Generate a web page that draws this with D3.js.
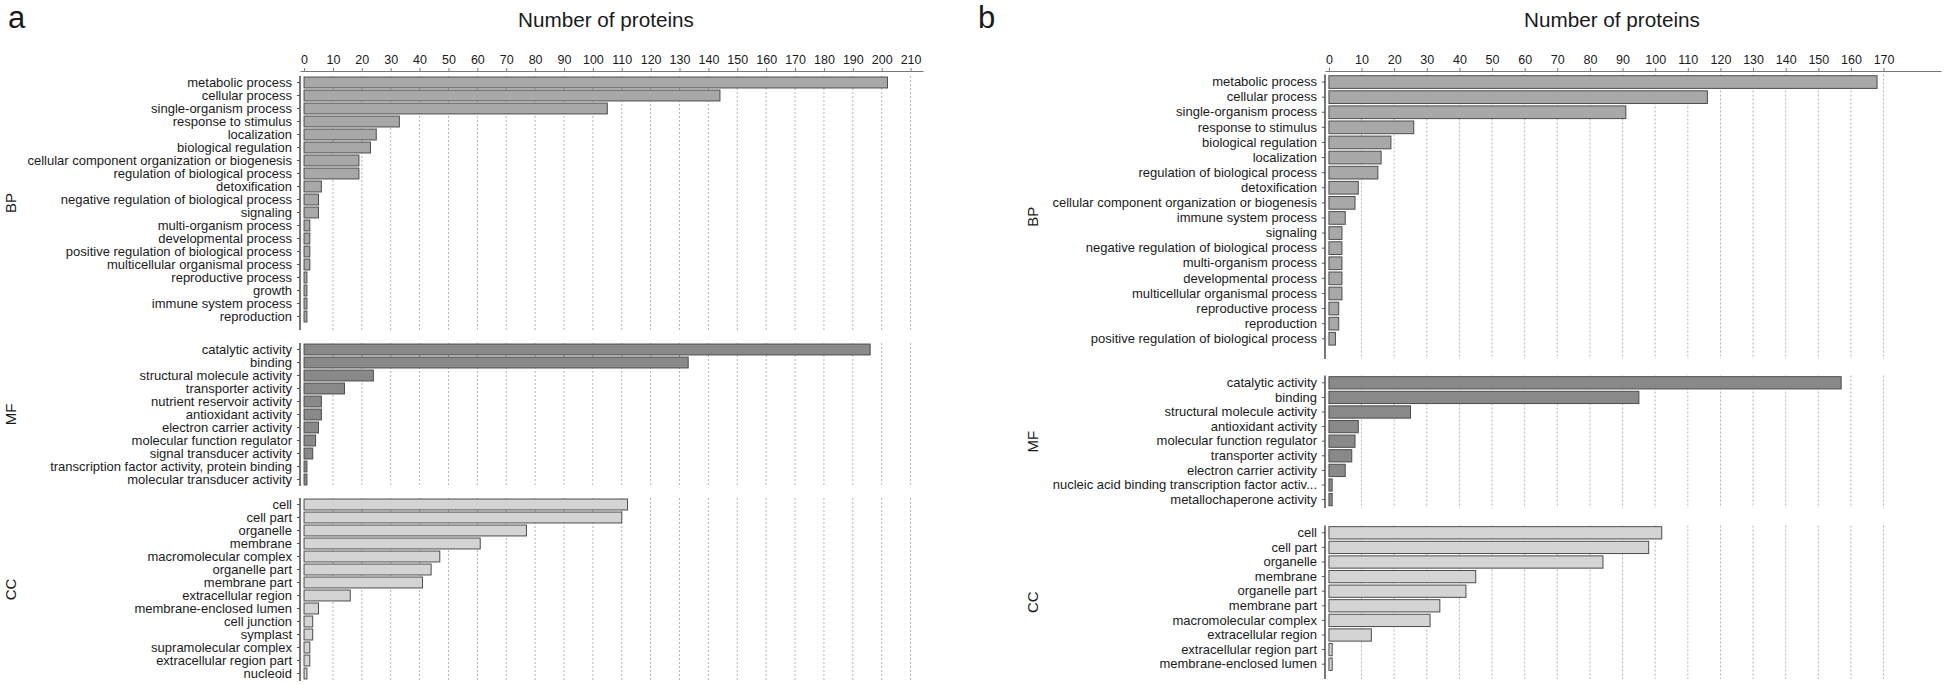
<!DOCTYPE html>
<html>
<head>
<meta charset="utf-8">
<script src="https://cdnjs.cloudflare.com/ajax/libs/d3/7.8.5/d3.min.js"></script>
<style>
body { margin: 0; background: #fff; }
text { font-family: "Liberation Sans", Arial, sans-serif; fill: #1a1a1a; }
.x-axis text { font-family: "Liberation Sans Narrow", "Arial Narrow", "Liberation Sans", sans-serif; }
</style>
</head>
<body>
<div class="chart"></div>
<script>
// ---- panel a ----
var bpTermsA = ["metabolic process", "cellular process", "single-organism process", "response to stimulus",
    "localization", "biological regulation", "cellular component organization or biogenesis",
    "regulation of biological process", "detoxification", "negative regulation of biological process",
    "signaling", "multi-organism process", "developmental process", "positive regulation of biological process",
    "multicellular organismal process", "reproductive process", "growth", "immune system process", "reproduction"];
var bpCountsA = [202, 144, 105, 33, 25, 23, 19, 19, 6, 5, 5, 2, 2, 2, 2, 1, 1, 1, 1];

var mfTermsA = ["catalytic activity", "binding", "structural molecule activity", "transporter activity",
    "nutrient reservoir activity", "antioxidant activity", "electron carrier activity",
    "molecular function regulator", "signal transducer activity",
    "transcription factor activity, protein binding", "molecular transducer activity"];
var mfCountsA = [196, 133, 24, 14, 6, 6, 5, 4, 3, 1, 1];

var ccTermsA = ["cell", "cell part", "organelle", "membrane", "macromolecular complex", "organelle part",
    "membrane part", "extracellular region", "membrane-enclosed lumen", "cell junction", "symplast",
    "supramolecular complex", "extracellular region part", "nucleoid"];
var ccCountsA = [112, 110, 77, 61, 47, 44, 41, 16, 5, 3, 3, 2, 2, 1];

var ticksA = [0, 10, 20, 30, 40, 50, 60, 70, 80, 90, 100, 110, 120, 130, 140, 150, 160, 170, 180, 190, 200, 210];

// ---- panel b ----
var bpTermsB = ["metabolic process", "cellular process", "single-organism process", "response to stimulus",
    "biological regulation", "localization", "regulation of biological process", "detoxification",
    "cellular component organization or biogenesis", "immune system process", "signaling",
    "negative regulation of biological process", "multi-organism process", "developmental process",
    "multicellular organismal process", "reproductive process", "reproduction",
    "positive regulation of biological process"];
var bpCountsB = [168, 116, 91, 26, 19, 16, 15, 9, 8, 5, 4, 4, 4, 4, 4, 3, 3, 2];

var mfTermsB = ["catalytic activity", "binding", "structural molecule activity", "antioxidant activity",
    "molecular function regulator", "transporter activity", "electron carrier activity",
    "nucleic acid binding transcription factor activ...", "metallochaperone activity"];
var mfCountsB = [157, 95, 25, 9, 8, 7, 5, 1, 1];

var ccTermsB = ["cell", "cell part", "organelle", "membrane", "organelle part", "membrane part",
    "macromolecular complex", "extracellular region", "extracellular region part", "membrane-enclosed lumen"];
var ccCountsB = [102, 98, 84, 45, 42, 34, 31, 13, 1, 1];

var ticksB = [0, 10, 20, 30, 40, 50, 60, 70, 80, 90, 100, 110, 120, 130, 140, 150, 160, 170];

var svgWidth = 1946;
var svgHeight = 685;

var fills = { BP: "#a8a8a8", MF: "#898989", CC: "#d4d4d4" };

var svg = d3.select(".chart")
    .append("svg")
    .attr("width", svgWidth)
    .attr("height", svgHeight);

function drawPanel(p) {
    var g = svg.append("g");

    var x = d3.scaleLinear()
        .domain(p.domain)
        .range([p.left, p.right]);

    // panel letter + title
    g.append("text")
        .attr("x", p.letterX)
        .attr("y", 28)
        .style("font-size", "31px")
        .text(p.letter);

    g.append("text")
        .attr("x", p.titleX)
        .attr("y", 27)
        .attr("text-anchor", "middle")
        .style("font-size", "20.7px")
        .text("Number of proteins");

    // top axis
    var topAxis = d3.axisTop(x)
        .tickValues(p.ticks)
        .tickSize(3)
        .tickSizeOuter(0)
        .tickPadding(4);

    var ax = g.append("g")
        .attr("class", "x-axis")
        .attr("transform", "translate(0," + p.axisY + ")")
        .call(topAxis);
    ax.selectAll("text").style("font-size", "12.5px").attr("fill", "#1a1a1a");
    ax.selectAll("line").attr("stroke", "#777");
    ax.select(".domain").attr("stroke", "#777");

    p.facets.forEach(function(f) {
        var n = f.terms.length;
        var y = d3.scaleBand()
            .domain(f.terms)
            .range([f.top, f.top + n * f.step])
            .paddingInner(0.16)
            .paddingOuter(0.08);

        var rows = f.terms.map((t, i) => ({ term: t, value: f.counts[i] }));

        // dashed grid
        g.append("g")
            .selectAll("line")
            .data(p.ticks.filter(t => t > 0))
            .enter()
            .append("line")
            .attr("x1", d => x(d))
            .attr("x2", d => x(d))
            .attr("y1", f.top)
            .attr("y2", f.bottom)
            .attr("stroke", "#b3b3b3")
            .attr("stroke-width", 1)
            .attr("stroke-dasharray", "2,2");

        // bars
        g.append("g")
            .selectAll("rect")
            .data(rows)
            .enter()
            .append("rect")
            .attr("x", x(0))
            .attr("y", d => y(d.term))
            .attr("width", d => x(d.value) - x(0))
            .attr("height", y.bandwidth())
            .attr("fill", fills[f.name])
            .attr("stroke", "#4d4d4d")
            .attr("stroke-width", 1);

        // left axis with term labels
        var leftAxis = d3.axisLeft(y)
            .tickSize(3)
            .tickSizeOuter(0)
            .tickPadding(5);

        var ay = g.append("g")
            .attr("transform", "translate(" + p.left + ",0)")
            .call(leftAxis);
        ay.selectAll("text").style("font-size", "13px").attr("fill", "#1a1a1a");
        ay.selectAll("line").attr("stroke", "#555");
        ay.select(".domain")
            .attr("stroke", "#555")
            .attr("stroke-width", 1.6)
            .attr("d", "M0," + f.top + "V" + f.bottom);

        // facet strip label
        g.append("text")
            .attr("transform", "translate(" + p.stripX + "," + ((f.top + f.bottom) / 2) + ") rotate(-90)")
            .attr("text-anchor", "middle")
            .attr("dy", "0.35em")
            .style("font-size", "15px")
            .text(f.name);
    });
}

drawPanel({
    letter: "a", letterX: 8, titleX: 606,
    left: 300, right: 923, domain: [-1.4, 214.3],
    ticks: ticksA, axisY: 71, stripX: 11,
    facets: [
        { name: "BP", terms: bpTermsA, counts: bpCountsA, top: 76, step: 13.0, bottom: 330 },
        { name: "MF", terms: mfTermsA, counts: mfCountsA, top: 343, step: 13.0, bottom: 486 },
        { name: "CC", terms: ccTermsA, counts: ccCountsA, top: 498, step: 13.0, bottom: 681 }
    ]
});

drawPanel({
    letter: "b", letterX: 978, titleX: 1612,
    left: 1325, right: 1941, domain: [-1.2, 187.6],
    ticks: ticksB, axisY: 71, stripX: 1033,
    facets: [
        { name: "BP", terms: bpTermsB, counts: bpCountsB, top: 74.5, step: 15.1, bottom: 359 },
        { name: "MF", terms: mfTermsB, counts: mfCountsB, top: 375.5, step: 14.6, bottom: 508 },
        { name: "CC", terms: ccTermsB, counts: ccCountsB, top: 525.5, step: 14.6, bottom: 679 }
    ]
});
</script>
</body>
</html>
